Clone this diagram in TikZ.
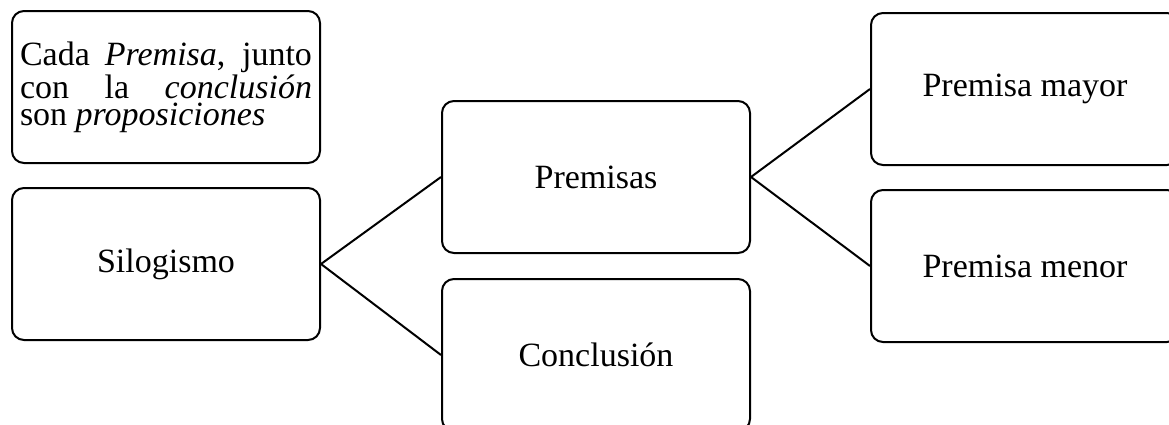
\documentclass[tikz,border=0pt]{standalone}
\usepackage{fontspec}
\setmainfont{Liberation Serif}
\usetikzlibrary{positioning}

\begin{document}
\begin{tikzpicture}[x=0.5pt, y=-0.5pt,
    box/.style={draw, line width=1pt, rounded corners=6pt, minimum width=154pt, minimum height=76pt,
                inner sep=4pt, align=center, font=\fontsize{17pt}{20pt}\selectfont},
    nota/.style={box, text width=146pt, align=justify, font=\fontsize{17pt}{13.5pt}\selectfont},
    lnk/.style={line width=1pt}]
  \useasboundingbox (0,0) rectangle (1169,424);
  \node[box] (silo) at (166,264) {Silogismo};
  \node[nota, above=11.5pt of silo] (cada) {Cada \emph{Premisa}, junto\linebreak con la \emph{conclusión}\linebreak son \emph{proposiciones}};
  \node[box] (prem) at (596,177) {Premisas};
  \node[box, below=12pt of prem] (concl) {Conclusión};
  \node[box] (mayor) at (1025,89) {Premisa mayor};
  \node[box, below=11.5pt of mayor] (menor) {Premisa menor};
  \foreach \n in {prem,concl} \draw[lnk] (silo.east) -- (\n.west);
  \foreach \n in {mayor,menor} \draw[lnk] (prem.east) -- (\n.west);
\end{tikzpicture}
\end{document}
